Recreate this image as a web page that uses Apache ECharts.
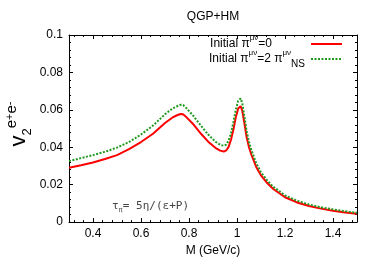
<!DOCTYPE html>
<html>
<head>
<meta charset="utf-8">
<script src="https://cdn.jsdelivr.net/npm/echarts@6/dist/echarts.min.js"></script>
<style>html,body{margin:0;padding:0;background:#fff;}#c{width:374px;height:262px;}</style>
</head>
<body>
<div id="c"></div>
<script>
const massM = [0.30,0.35,0.40,0.45,0.50,0.55,0.60,0.65,0.70,0.73,0.75,0.765,0.775,0.79,0.82,0.85,0.88,0.91,0.93,0.945,0.955,0.965,0.975,0.985,0.995,1.005,1.015,1.022,1.03,1.04,1.05,1.06,1.08,1.10,1.125,1.15,1.20,1.25,1.30,1.35,1.40,1.45,1.50];
const v2Zero = [0.0290,0.0304,0.0319,0.0337,0.0358,0.0390,0.0428,0.0472,0.0530,0.0558,0.0571,0.0578,0.0576,0.0560,0.0520,0.0472,0.0430,0.0397,0.0382,0.0377,0.0383,0.0402,0.0440,0.0495,0.0560,0.0607,0.0620,0.0595,0.0535,0.0455,0.0400,0.0360,0.0295,0.0250,0.0210,0.0178,0.0133,0.0105,0.0086,0.0072,0.0061,0.0051,0.0044];
const v2NS = [0.0326,0.0342,0.0358,0.0376,0.0398,0.0428,0.0468,0.0516,0.0576,0.0606,0.0619,0.0627,0.0626,0.0608,0.0565,0.0515,0.0468,0.0430,0.0413,0.0408,0.0414,0.0435,0.0475,0.0535,0.0600,0.0648,0.0661,0.0635,0.0572,0.0487,0.0428,0.0385,0.0315,0.0266,0.0224,0.0190,0.0143,0.0114,0.0094,0.0079,0.0068,0.0058,0.0050];
const xMajorTicks = [0.4,0.6,0.8,1.0,1.2,1.4];
const xMinorTicks = [0.32,0.36,0.44,0.48,0.52,0.56,0.64,0.68,0.72,0.76,0.84,0.88,0.92,0.96,1.04,1.08,1.12,1.16,1.24,1.28,1.32,1.36,1.44,1.48];
const seriesNames = ['Initial \u03c0\u03bc\u03bd=0', 'Initial \u03c0\u03bc\u03bd=2 \u03c0\u03bc\u03bdNS'];

const FONT = 'Liberation Sans';
const red = '#ff0000', green = '#1f9a1f';
const chart = echarts.init(document.getElementById('c'), null, {renderer:'canvas'});
const zip = (xs, ys) => xs.map((x,i)=>[x, ys[i]]);
const baseX = {type:'value', min:0.3, max:1.5, splitLine:{show:false}};
const axLine = {show:true, lineStyle:{color:'#000', width:1}};
const legendCommon = {right:31, padding:0, align:'right', itemWidth:31, itemHeight:12, selectedMode:false,
  itemStyle:{opacity:0}};
chart.setOption({
  animation:false,
  grid:{left:69, right:17, top:35, bottom:37, containLabel:false},
  xAxis:[
    Object.assign({}, baseX, {position:'bottom', axisLine:axLine,
      axisTick:{show:true, inside:true, length:4, lineStyle:{color:'#000'}, customValues:xMajorTicks},
      axisLabel:{show:true, customValues:xMajorTicks, color:'#000', fontFamily:FONT, fontSize:12, margin:6, formatter:v=>String(+v.toFixed(2))},
      name:'M (GeV/c)', nameLocation:'middle', nameGap:22, nameTextStyle:{color:'#000', fontFamily:FONT, fontSize:12}}),
    Object.assign({}, baseX, {position:'bottom', axisLine:{show:false},
      axisTick:{show:true, inside:true, length:2, lineStyle:{color:'#000'}, customValues:xMinorTicks},
      axisLabel:{show:false}}),
    Object.assign({}, baseX, {position:'top', axisLine:axLine,
      axisTick:{show:true, inside:true, length:4, lineStyle:{color:'#000'}, customValues:xMajorTicks},
      axisLabel:{show:false}}),
    Object.assign({}, baseX, {position:'top', axisLine:{show:false},
      axisTick:{show:true, inside:true, length:2, lineStyle:{color:'#000'}, customValues:xMinorTicks},
      axisLabel:{show:false}})
  ],
  yAxis:[
    {type:'value', min:0, max:0.1, interval:0.02, position:'left', splitLine:{show:false}, axisLine:axLine,
      axisTick:{show:true, inside:true, length:4, lineStyle:{color:'#000'}},
      minorTick:{show:true, splitNumber:5, length:2, lineStyle:{color:'#000'}},
      axisLabel:{color:'#000', fontFamily:FONT, fontSize:12, margin:6, formatter:v=>String(+v.toFixed(3))}},
    {type:'value', min:0, max:0.1, interval:0.02, position:'right', splitLine:{show:false}, axisLine:axLine,
      axisTick:{show:true, inside:true, length:4, lineStyle:{color:'#000'}},
      minorTick:{show:true, splitNumber:5, length:2, lineStyle:{color:'#000'}},
      axisLabel:{show:false}}
  ],
  legend:[
    Object.assign({}, legendCommon, {data:[seriesNames[0]], top:34,
      formatter:()=>'{t|Initial \u03c0}{s|\u03bc\u03bd}{e|=0}',
      textStyle:{rich:{t:{fontFamily:FONT, fontSize:12, color:'#000', lineHeight:20, verticalAlign:'middle'},
        s:{fontFamily:FONT, fontSize:8, color:'#000', lineHeight:20, verticalAlign:'top'},
        e:{fontFamily:FONT, fontSize:12, color:'#000', lineHeight:20, verticalAlign:'middle', padding:[0,34,0,0]}}}}),
    Object.assign({}, legendCommon, {data:[seriesNames[1]], top:49,
      formatter:()=>'{t|Initial \u03c0}{s|\u03bc\u03bd}{t|=2 \u03c0}{s|\u03bc\u03bd}{b|NS}',
      textStyle:{rich:{t:{fontFamily:FONT, fontSize:12, color:'#000', lineHeight:20, verticalAlign:'middle'},
        s:{fontFamily:FONT, fontSize:8, color:'#000', lineHeight:20, verticalAlign:'top'},
        b:{fontFamily:FONT, fontSize:10, color:'#000', lineHeight:20, verticalAlign:'bottom', padding:[0,1,0,0]}}}})
  ],
  graphic:[
    {type:'text', x:213, y:17, style:{text:'QGP+HM', fill:'#000', font:'12px "Liberation Sans"', align:'center', verticalAlign:'middle'}},
    {type:'text', x:19, y:124, rotation:Math.PI/2, style:{text:'{v|v}{b|2}{p|e}{q|+}{p|e}{q|-}', align:'center', verticalAlign:'middle',
      rich:{v:{fontFamily:FONT, fontSize:22, fill:'#000', lineHeight:30, verticalAlign:'middle'},
        b:{fontFamily:FONT, fontSize:13, fill:'#000', lineHeight:30, verticalAlign:'bottom'},
        p:{fontFamily:FONT, fontSize:15, fill:'#000', lineHeight:30, verticalAlign:'top'},
        q:{fontFamily:FONT, fontSize:11, fill:'#000', lineHeight:30, verticalAlign:'top'}}}},
    {type:'text', x:112, y:206, style:{text:'{a|\u03c4}{s|\u03c0}{a|= 5\u03b7/(\u03b5+P)}', align:'left', verticalAlign:'middle',
      rich:{a:{fontFamily:'DejaVu Sans Mono', fontSize:11, fill:'#444', lineHeight:16, verticalAlign:'middle'},
        s:{fontFamily:'DejaVu Sans Mono', fontSize:7, fill:'#444', lineHeight:16, verticalAlign:'bottom'}}}}
  ],
  series:[
    {name:seriesNames[0], type:'line', xAxisIndex:0, yAxisIndex:0, data:zip(massM, v2Zero), showSymbol:false, symbol:'none',
      lineStyle:{color:red, width:2}, itemStyle:{color:red}},
    {name:seriesNames[1], type:'line', xAxisIndex:0, yAxisIndex:0, data:zip(massM, v2NS), showSymbol:false, symbol:'none',
      lineStyle:{color:green, width:2, type:[2,1.5]}, itemStyle:{color:green}}
  ]
});
</script>
</body>
</html>
